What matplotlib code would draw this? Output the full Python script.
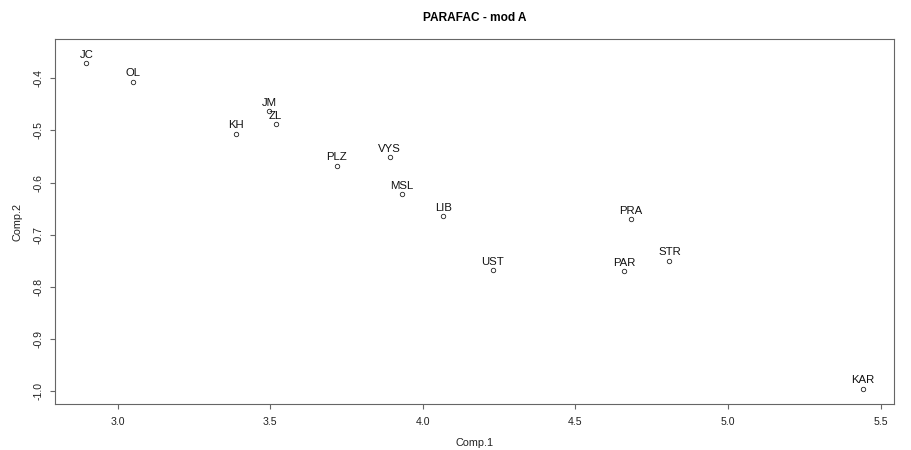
import numpy as np
import matplotlib
matplotlib.use('Agg')
import matplotlib.pyplot as plt

# 数据：PARAFAC 模型 A 的两个分量
regions = ['JC', 'OL', 'KH', 'JM', 'ZL', 'PLZ', 'VYS', 'MSL', 'LIB', 'UST',
           'PRA', 'PAR', 'STR', 'KAR']
comp1 = [2.898, 3.050, 3.388, 3.496, 3.518, 3.718, 3.891, 3.932, 4.067, 4.229,
         4.683, 4.659, 4.808, 5.442]
comp2 = [-0.371, -0.407, -0.506, -0.463, -0.488, -0.568, -0.551, -0.622, -0.664, -0.768,
         -0.670, -0.770, -0.750, -0.995]
xticks = [3.0, 3.5, 4.0, 4.5, 5.0, 5.5]
yticks = [-0.4, -0.5, -0.6, -0.7, -0.8, -0.9, -1.0]

plt.rcParams['font.family'] = ['Liberation Sans', 'DejaVu Sans']

fig = plt.figure(figsize=(9.11, 4.5), dpi=100)
ax = fig.add_axes([0.0607, 0.1022, 0.921, 0.8111])

ax.plot(comp1, comp2, linestyle='none', marker='o', markersize=3.2,
        markerfacecolor='white', markeredgecolor='#222222', markeredgewidth=0.6)
for name, x, y in zip(regions, comp1, comp2):
    ax.annotate(name, (x, y), xytext=(0, 2.5), textcoords='offset points',
                ha='center', va='bottom', fontsize=8.2, color='#111111')

ax.set_xlim(2.796, 5.545)
ax.set_ylim(-1.024, -0.325)
ax.set_xticks(xticks)
ax.set_xticklabels(['%.1f' % v for v in xticks])
ax.set_yticks(yticks)
ax.set_yticklabels(['%.1f' % v for v in yticks], rotation=90, va='center')

for s in ax.spines.values():
    s.set_color('#666666')
    s.set_linewidth(0.8)
ax.tick_params(direction='out', length=3.5, width=0.8, color='#666666',
               labelsize=7.6, labelcolor='#222222')
ax.tick_params(axis='x', pad=6)
ax.tick_params(axis='y', pad=5)

ax.set_xlabel('Comp.1', fontsize=7.8, labelpad=8, color='#222222')
ax.set_ylabel('Comp.2', fontsize=7.8, labelpad=8, color='#222222')
ax.set_title('PARAFAC - mod A', fontsize=8.6, fontweight='bold', pad=13)

fig.savefig('out.png', dpi=100)
